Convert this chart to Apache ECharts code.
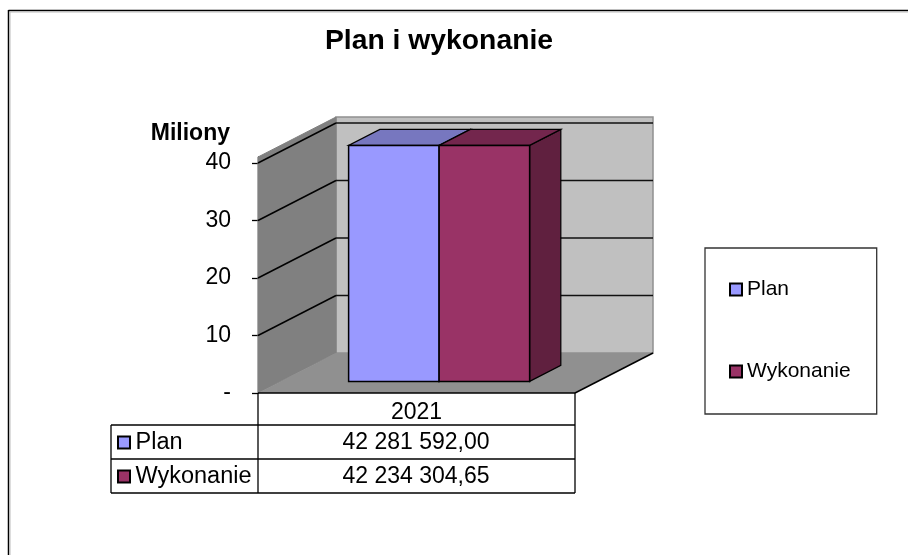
<!DOCTYPE html>
<html><head><meta charset="utf-8">
<style>html,body{margin:0;padding:0;background:#fff}#c{width:908px;height:555px}</style>
<script src="https://cdn.jsdelivr.net/npm/echarts@6/dist/echarts.min.js"></script>
</head><body><div id="c"></div>
<script>
const categories = ['2021'];
const seriesNames = ['Plan', 'Wykonanie'];
const planValues = [42281592.00];
const wykonanieValues = [42234304.65];
const tableLabels = ['42 281 592,00', '42 234 304,65'];
const yTicks = [0, 10000000, 20000000, 30000000, 40000000];
const gridlineTicks = [10000000, 20000000, 30000000, 40000000];
const axisMax = 41040000;

const FONT = '"Liberation Sans", Arial, sans-serif';
const DX = 78, DY = -40;                 // wall depth offset
const BAR_D0 = 0.29, BAR_D1 = 0.69;      // bar depth range as fraction of DX,DY
const BAR_W = 0.2855;                    // bar width as fraction of band

const colors = {
  Plan: {front: '#9999FF', top: '#7777BF', side: '#5f5f9f'},
  Wykonanie: {front: '#993366', top: '#73264D', side: '#60203F'}
};

function off(p, f) { return [p[0] + DX * f, p[1] + DY * f]; }
function poly(points, fill, stroke, lw) {
  return {type: 'polygon', shape: {points}, style: {fill: fill, stroke: stroke || null, lineWidth: lw || 0}};
}
function ln(a, b, stroke, lw) {
  return {type: 'line', shape: {x1: a[0], y1: a[1], x2: b[0], y2: b[1]}, style: {stroke, lineWidth: lw}};
}

function renderWalls(params, api) {
  const band = api.size([1, 0])[0];
  const c = api.coord([0, 0]);
  const xL = c[0] - band / 2, xR = c[0] + band / 2, y0 = c[1];
  const yT = api.coord([0, axisMax])[1];
  const FL = [xL, y0], FR = [xR, y0], TL = [xL, yT], TR = [xR, yT];
  const kids = [
    poly([off(FL,1), off(FR,1), off(TR,1), off(TL,1)], '#C0C0C0', '#909090', 1.5),
    poly([FL, off(FL,1), off(TL,1), TL], '#808080', '#808080', 1),
    poly([FL, FR, off(FR,1), off(FL,1)], '#909090', null, 0),
    ln(FR, off(FR,1), '#000', 1.5),
    ln(FL, FR, '#000', 1.5)
  ];
  gridlineTicks.forEach(v => {
    const y = api.coord([0, v])[1];
    const a = [xL, y], b = off(a, 1), d = off([xR, y], 1);
    kids.push(ln(a, b, '#000', 1.5), ln(b, d, '#111', 1.5));
  });
  return {type: 'group', children: kids};
}

function renderBar(seriesIndex) {
  return function (params, api) {
    const band = api.size([1, 0])[0];
    const w = band * BAR_W;
    const c = api.coord([api.value(0), 0]);
    const v = Math.min(api.value(1), axisMax);     // Excel clips bars at axis max
    const top = api.coord([api.value(0), v])[1];
    const left = c[0] + (seriesIndex - 1) * w;
    const right = left + w;
    const col = colors[seriesNames[seriesIndex]];
    const F = [
      off([left, c[1]], BAR_D0), off([right, c[1]], BAR_D0),
      off([right, top], BAR_D0), off([left, top], BAR_D0)
    ];
    const B = [
      off([left, c[1]], BAR_D1), off([right, c[1]], BAR_D1),
      off([right, top], BAR_D1), off([left, top], BAR_D1)
    ];
    const s = '#000';
    return {type: 'group', children: [
      poly([F[1], B[1], B[2], F[2]], col.side, s, 1.2),
      poly([F[3], F[2], B[2], B[3]], col.top, s, 1.2),
      poly(F, col.front, s, 1.5)
    ]};
  };
}

const chart = echarts.init(document.getElementById('c'), null, {renderer: 'canvas'});

const GL = 258, GR = 575, GT = 157, GB = 393;
const tableTop = 425, rowH = 34, tableLeft = 111;
const tableGraphics = [];
function gLine(x1, y1, x2, y2, stroke, lw) {
  tableGraphics.push({type: 'line', silent: true, z: 5,
    shape: {x1, y1, x2, y2}, style: {stroke: stroke || '#000', lineWidth: lw || 1.3}});
}
gLine(GL, GB, GL, tableTop + 2 * rowH);
gLine(GR, GB, GR, tableTop + 2 * rowH);
gLine(tableLeft, tableTop, GR, tableTop);
gLine(tableLeft, tableTop + rowH, GR, tableTop + rowH);
gLine(tableLeft, tableTop + 2 * rowH, GR, tableTop + 2 * rowH);
gLine(tableLeft, tableTop, tableLeft, tableTop + 2 * rowH);
seriesNames.forEach((n, i) => {
  const cy = tableTop + rowH * i + rowH / 2;
  tableGraphics.push({type: 'rect', z: 6, silent: true,
    shape: {x: 118, y: cy - 5.5, width: 12, height: 12},
    style: {fill: colors[n].front, stroke: '#000', lineWidth: 2}});
  tableGraphics.push({type: 'text', z: 6, silent: true, x: 135.5, y: cy + 1,
    style: {text: n, font: '23.5px ' + FONT, fill: '#000', textVerticalAlign: 'middle'}});
  tableGraphics.push({type: 'text', z: 6, silent: true, x: (GL + GR) / 2 - 0.5, y: cy + 1,
    style: {text: tableLabels[i], font: '23px ' + FONT, fill: '#000', textAlign: 'center', textVerticalAlign: 'middle'}});
});
// chart area frame
gLine(8.5, 10.5, 908, 10.5, '#000', 1.5);
gLine(8.5, 10, 8.5, 555, '#000', 1.5);
gLine(10, 12, 908, 12, '#bbb', 1);
gLine(10, 12, 10, 555, '#bbb', 1);

chart.setOption({
  animation: false,
  backgroundColor: '#fff',
  title: {
    text: 'Plan i wykonanie', left: 320, top: 22,
    textStyle: {fontFamily: FONT, fontSize: 28.3, fontWeight: 'bold', color: '#000'}
  },
  legend: {
    data: seriesNames,
    orient: 'vertical',
    left: 705, top: 248,
    padding: [31, 26, 32, 24],
    itemGap: 61,
    itemWidth: 12, itemHeight: 12,
    icon: 'rect',
    borderColor: '#333', borderWidth: 1.3,
    textStyle: {fontFamily: FONT, fontSize: 21, color: '#000'},
    selectedMode: false,
    itemStyle: {borderColor: '#000', borderWidth: 2}
  },
  grid: {left: GL, top: GT, width: GR - GL, height: GB - GT},
  xAxis: {
    type: 'category', data: categories,
    axisLine: {show: false}, axisTick: {show: false},
    axisLabel: {fontFamily: FONT, fontSize: 23, color: '#000', margin: 8}
  },
  yAxis: {
    type: 'value', min: 0, max: axisMax,
    name: 'Miliony', nameLocation: 'end', nameGap: 12,
    nameTextStyle: {fontFamily: FONT, fontSize: 23, fontWeight: 'bold', color: '#000', align: 'right', padding: [0, 28, 0, 0]},
    splitLine: {show: false},
    axisLine: {show: true, lineStyle: {color: '#000', width: 1.3}},
    axisTick: {show: true, length: 6, customValues: yTicks, lineStyle: {color: '#000', width: 1.3}},
    axisLabel: {
      customValues: yTicks, margin: 27, fontFamily: FONT, fontSize: 23, color: '#000', padding: [4, 0, 0, 0],
      formatter: v => v === 0 ? '-' : String(v / 1000000)
    }
  },
  series: [
    {type: 'custom', name: 'walls', silent: true, z: 1, renderItem: renderWalls, data: [[0, 0]], encode: {x: 0, y: 1}, clip: false},
    {type: 'custom', name: 'Plan', z: 2, renderItem: renderBar(0), data: [[0, planValues[0]]], encode: {x: 0, y: 1}, clip: false, itemStyle: {color: colors.Plan.front}},
    {type: 'custom', name: 'Wykonanie', z: 3, renderItem: renderBar(1), data: [[0, wykonanieValues[0]]], encode: {x: 0, y: 1}, clip: false, itemStyle: {color: colors.Wykonanie.front}}
  ],
  graphic: tableGraphics
});
</script></body></html>
